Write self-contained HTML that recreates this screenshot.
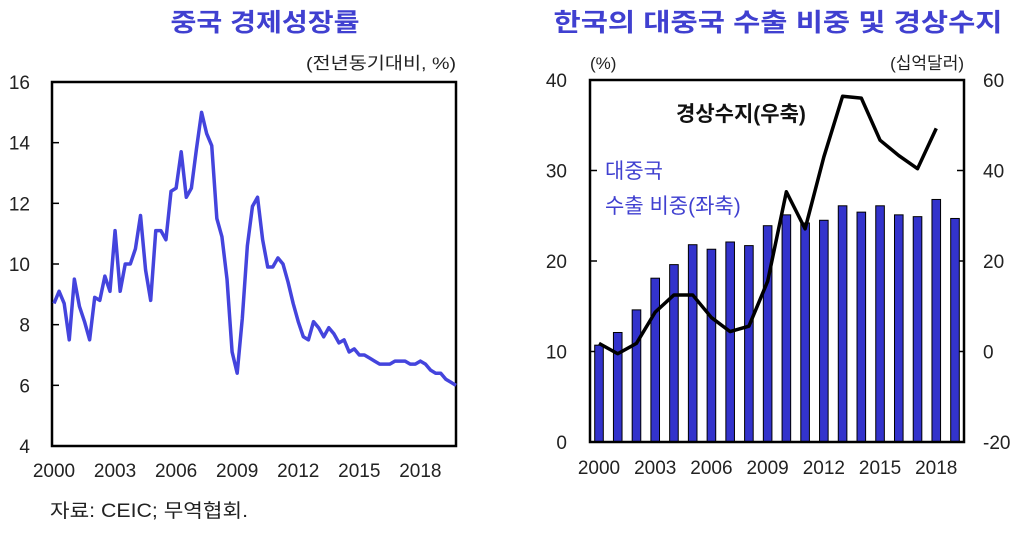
<!DOCTYPE html>
<html><head><meta charset="utf-8"><style>
body{margin:0;background:#fff;}
svg text{font-family:"Liberation Sans","Noto Sans CJK KR",sans-serif;}
</style></head><body>
<svg id="c" width="1022" height="529" viewBox="0 0 1022 529" xmlns="http://www.w3.org/2000/svg">
<rect x="0" y="0" width="1022" height="529" fill="#fff"/>
<text x="265" y="31" font-size="25" font-weight="bold" fill="#4040d0" text-anchor="middle" textLength="189" lengthAdjust="spacingAndGlyphs">중국 경제성장률</text>
<text x="778" y="31" font-size="25" font-weight="bold" fill="#4040d0" text-anchor="middle" textLength="449" lengthAdjust="spacingAndGlyphs">한국의 대중국 수출 비중 및 경상수지</text>
<text x="456" y="69" font-size="17" fill="#222" text-anchor="end" textLength="150" lengthAdjust="spacingAndGlyphs">(전년동기대비, %)</text>
<text x="590" y="69" font-size="17" fill="#222">(%)</text>
<text x="964" y="69" font-size="17" fill="#222" text-anchor="end">(십억달러)</text>
<text x="50" y="517" font-size="19" fill="#222" textLength="198" lengthAdjust="spacingAndGlyphs">자료: CEIC; 무역협회.</text>
<g id="left"></g><g id="right"></g>
</svg>
<script>
const gdpStartYear = 2000;
const gdpValues = [8.7,9.1,8.7,7.5, 9.5,8.6,8.1,7.5, 8.9,8.8,9.6,9.1, 11.1,9.1,10.0,10.0,
 10.5,11.6,9.8,8.8, 11.1,11.1,10.8,12.4, 12.5,13.7,12.2,12.5, 13.8,15.0,14.3,13.9,
 11.5,10.9,9.5,7.1, 6.4,8.2,10.6,11.9, 12.2,10.8,9.9,9.9, 10.2,10.0,9.4,8.7,
 8.1,7.6,7.5,8.1, 7.9,7.6,7.9,7.7, 7.4,7.5,7.1,7.2, 7.0,7.0,6.9,6.8,
 6.7,6.7,6.7,6.8, 6.8,6.8,6.7,6.7, 6.8,6.7,6.5,6.4, 6.4,6.2,6.1,6.0];
const gdpYTicks = [4,6,8,10,12,14,16];
const xTickYears = [2000,2003,2006,2009,2012,2015,2018];
const barYears = [2000,2001,2002,2003,2004,2005,2006,2007,2008,2009,2010,2011,2012,2013,2014,2015,2016,2017,2018,2019];
const exportShare = [10.7,12.1,14.6,18.1,19.6,21.8,21.3,22.1,21.7,23.9,25.1,24.2,24.5,26.1,25.4,26.1,25.1,24.9,26.8,24.7];
const caYears = [2000,2001,2002,2003,2004,2005,2006,2007,2008,2009,2010,2011,2012,2013,2014,2015,2016,2017,2018];
const currentAccount = [1.8,-0.5,1.8,8.7,12.5,12.5,7.5,4.4,5.6,15.5,35.3,27.1,43,56.4,56,46.7,43.3,40.4,49.3];
const leftTicks = [0,10,20,30,40];
const rightTicks = [-20,0,20,40,60];

const NS='http://www.w3.org/2000/svg';
function mk(parent, tag, attrs){const e=document.createElementNS(NS,tag);for(const k in attrs)e.setAttribute(k,attrs[k]);parent.appendChild(e);return e;}

// LEFT
const L=document.getElementById('left');
const lx0=54,lx1=456,ly0=446,ly1=82;
const lxq=i=>lx0+i*(lx1-lx0)/(gdpValues.length-1);
const ly=v=>ly0-(v-4)*(ly0-ly1)/12;
gdpYTicks.forEach(t=>{
 const tx=mk(L,'text',{x:30,y:ly(t)+7,'font-size':19,fill:'#222','text-anchor':'end'});
 tx.textContent=t;
 
 
 if(t>4&&t<16){const tk=mk(L,'line',{x1:lx0-2,x2:lx0+5,y1:ly(t),y2:ly(t),stroke:'#000','stroke-width':1.5});
 
 }
});
xTickYears.forEach(yr=>{
 const tx=mk(L,'text',{x:lxq((yr-gdpStartYear)*4),y:477,'font-size':19,fill:'#222','text-anchor':'middle'});
 tx.textContent=yr;
 
 
});
const lb=mk(L,'rect',{x:52,y:82,width:404,height:364,fill:'none',stroke:'#000','stroke-width':2.5});


const gl=mk(L,'polyline',{points:gdpValues.map((v,i)=>lxq(i)+','+ly(v)).join(' '),fill:'none',stroke:'#4444dd','stroke-width':3.5,'stroke-linejoin':'round'});



// RIGHT
const R=document.getElementById('right');
const rx0=590,rx1=964,ry0=442,ry1=80;
const rxc=yr=>599+(yr-2000)*(955-599)/19;
const yl=v=>ry0-v*(ry0-ry1)/40;
const yr_=v=>ry0-(v+20)*(ry0-ry1)/80;
leftTicks.forEach(t=>{
 const tx=mk(R,'text',{x:567,y:yl(t)+7,'font-size':19,fill:'#222','text-anchor':'end'});
 tx.textContent=t;
 
 
 if(t>0&&t<40){const tk=mk(R,'line',{x1:rx0,x2:rx0+7,y1:yl(t),y2:yl(t),stroke:'#000','stroke-width':1.5});
 
 }
});
rightTicks.forEach(t=>{
 const tx=mk(R,'text',{x:983,y:yr_(t)+7,'font-size':19,fill:'#222','text-anchor':'start'});
 tx.textContent=t;
 
 
 if(t>-20&&t<60){const tk=mk(R,'line',{x1:rx1-7,x2:rx1,y1:yr_(t),y2:yr_(t),stroke:'#000','stroke-width':1.5});
 
 }
});
xTickYears.forEach(yr=>{
 const tx=mk(R,'text',{x:rxc(yr),y:474,'font-size':19,fill:'#222','text-anchor':'middle'});
 tx.textContent=yr;
 
 
});
exportShare.forEach((v,i)=>{
 const b=mk(R,'rect',{x:rxc(barYears[i])-4.3,y:yl(v),width:8.6,height:yl(0)-yl(v),fill:'#3333cc',stroke:'#000','stroke-width':1});
 
 
});
const rb=mk(R,'rect',{x:rx0,y:ry1,width:rx1-rx0,height:ry0-ry1,fill:'none',stroke:'#000','stroke-width':2.5});


const cl=mk(R,'polyline',{points:currentAccount.map((v,i)=>rxc(caYears[i])+','+yr_(v)).join(' '),fill:'none',stroke:'#000','stroke-width':3.5,'stroke-linejoin':'round'});


const t1=mk(R,'text',{x:676,y:121,'font-size':21,'font-weight':'bold',fill:'#111'});
t1.textContent='경상수지(우축)';


const t2=mk(R,'text',{x:605,y:178,'font-size':21,fill:'#4040d0'});
t2.textContent='대중국';


const t3=mk(R,'text',{x:605,y:213,'font-size':21,fill:'#4040d0'});
t3.textContent='수출 비중(좌축)';


</script>
</body></html>
